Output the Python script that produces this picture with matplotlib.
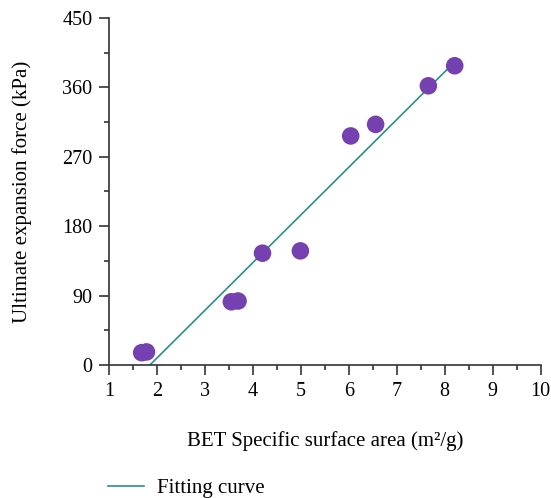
import numpy as np
import matplotlib
matplotlib.use("Agg")
import matplotlib.pyplot as plt
from matplotlib.ticker import MultipleLocator

plt.rcParams['font.family'] = ['Liberation Serif', 'DejaVu Serif']

# Measured samples
bet_area = [1.68, 1.78, 3.55, 3.69, 4.20, 4.99, 6.04, 6.56, 7.66, 8.21]
expansion_force = [16, 17, 82, 83, 145, 148, 297, 312, 362, 388]

# Linear fit y = slope * x + intercept, drawn over its fitted span
fit_slope = 61.8
fit_intercept = -114.4
fit_range = [1.85, 8.21]

fig = plt.figure(figsize=(5.51, 4.98), dpi=100)
ax = fig.add_axes([0.198, 0.267, 0.783, 0.697])

fx = np.array(fit_range)
line, = ax.plot(fx, fit_slope * fx + fit_intercept, color="#2a8f8a", lw=1.2,
                label="Fitting curve", zorder=2)
ax.scatter(bet_area, expansion_force, s=160, color="#7540b0", edgecolors="none", zorder=3)

ax.set_xlim(1, 10)
ax.set_ylim(0, 450)
ax.xaxis.set_major_locator(MultipleLocator(1))
ax.xaxis.set_minor_locator(MultipleLocator(0.5))
ax.yaxis.set_major_locator(MultipleLocator(90))
ax.yaxis.set_minor_locator(MultipleLocator(45))

for s in ["top", "right"]:
    ax.spines[s].set_visible(False)
for s in ["left", "bottom"]:
    ax.spines[s].set_color("#333333")
    ax.spines[s].set_linewidth(1.2)

ax.tick_params(which="major", direction="out", length=7, width=1.2, color="#333333",
               labelsize=14.5, pad=5)
ax.tick_params(which="minor", direction="out", length=3.5, width=1.2, color="#333333")

ax.set_xlabel("BET Specific surface area (m²/g)", fontsize=15, labelpad=22)
ax.set_ylabel("Ultimate expansion force (kPa)", fontsize=15, labelpad=22)

fig.legend(handles=[line], loc="lower left", bbox_to_anchor=(0.162, -0.038),
           frameon=False, fontsize=15, handlelength=1.75, handletextpad=0.6)

fig.savefig("out.png", dpi=100)
